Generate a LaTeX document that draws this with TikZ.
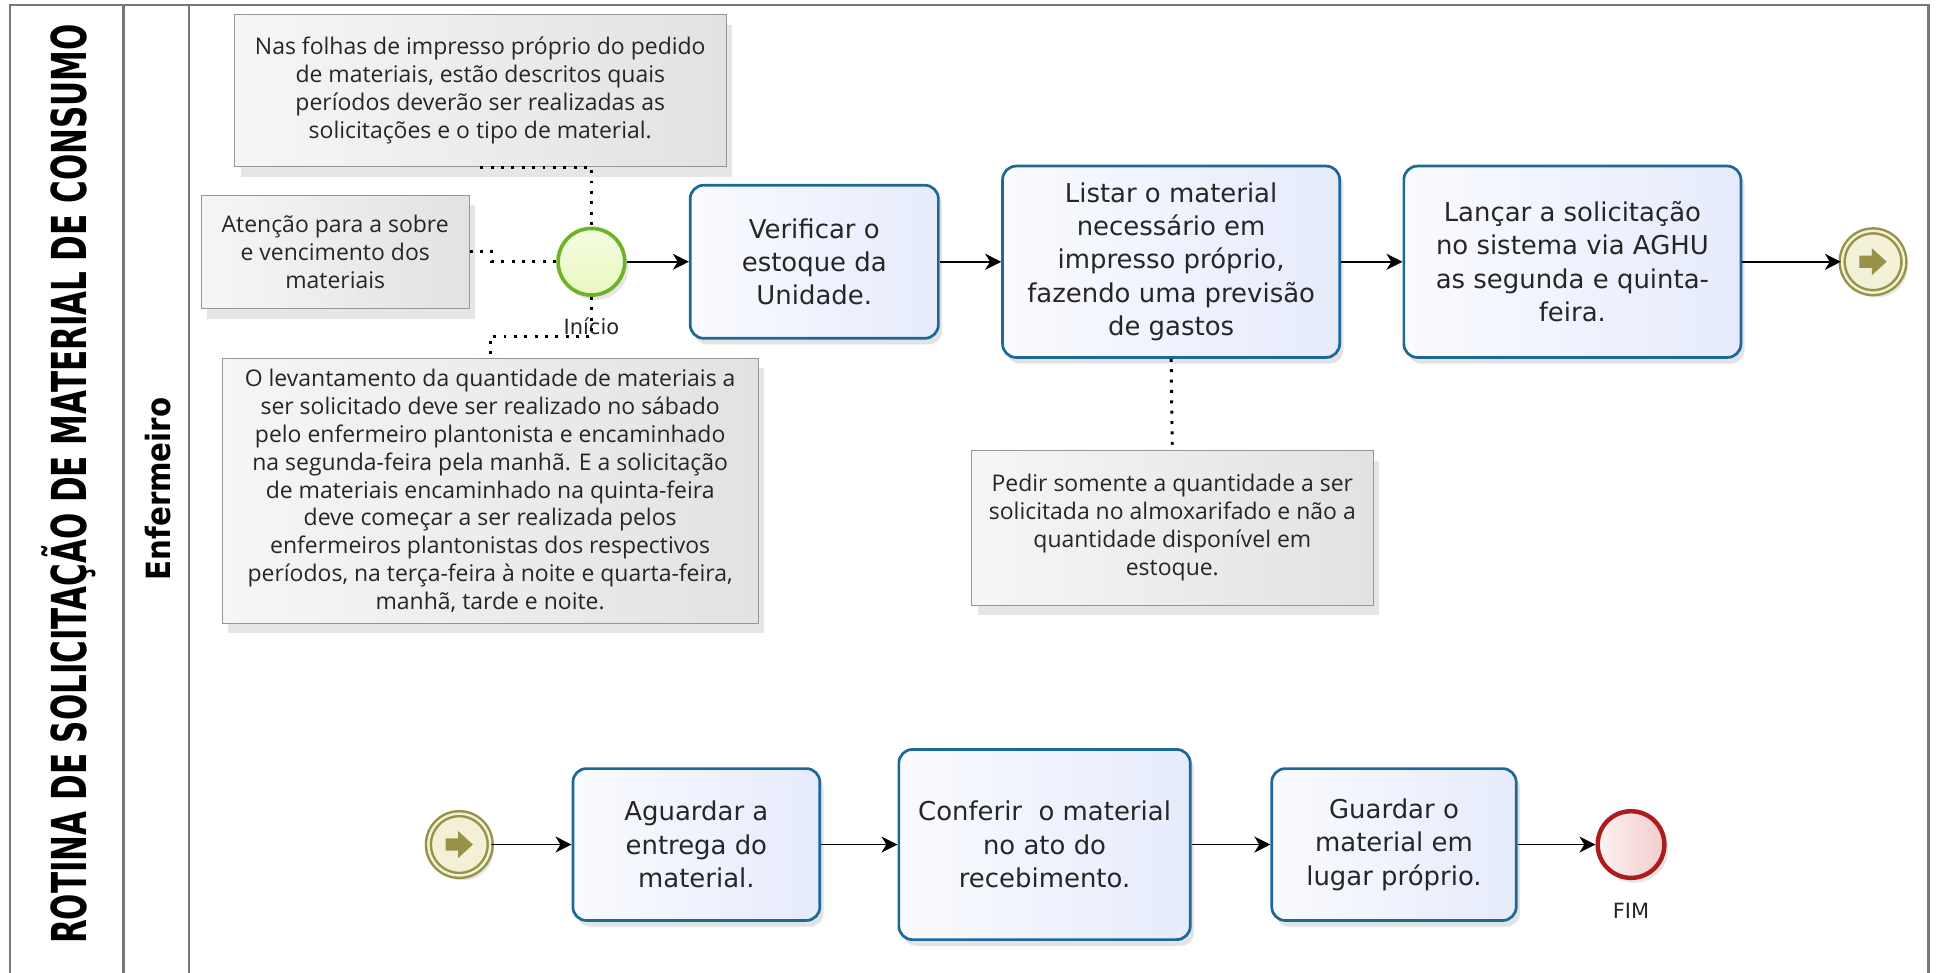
\documentclass[tikz,border=0pt]{standalone}
\usepackage{fontspec}
\usepackage{graphicx}
\setmainfont{DejaVu Sans}
\newfontfamily\notefont{Open Sans}
\usetikzlibrary{arrows.meta,shadows,positioning}
\definecolor{poolgray}{RGB}{120,120,120}
\definecolor{taskline}{RGB}{28,104,152}
\definecolor{taskA}{RGB}{250,251,255}
\definecolor{taskB}{RGB}{230,235,251}
\definecolor{notegray}{RGB}{150,150,150}
\definecolor{noteA}{RGB}{246,246,246}
\definecolor{noteB}{RGB}{226,226,226}
\definecolor{startline}{RGB}{110,178,40}
\definecolor{startfill}{RGB}{232,248,190}
\definecolor{endline}{RGB}{172,28,28}
\definecolor{endfill}{RGB}{244,204,204}
\definecolor{linkol}{RGB}{150,146,72}
\definecolor{linkbg}{RGB}{242,240,214}

\begin{document}
\begin{tikzpicture}[x=1pt, y=-1pt,
    pool/.style={draw=poolgray, line width=2pt},
    task/.style={rectangle, rounded corners=11pt, draw=taskline, line width=2.2pt,
      left color=taskA, right color=taskB, align=center, text=black!85,
      font=\fontsize{21}{27}\selectfont,
      drop shadow={shadow xshift=3pt, shadow yshift=-5pt, opacity=.22}},
    note/.style={rectangle, draw=notegray, line width=.8pt,
      left color=noteA, right color=noteB, align=center, text=black!85,
      font=\notefont\fontsize{18.6}{22.6}\selectfont,
      drop shadow={shadow xshift=5pt, shadow yshift=-8pt, opacity=.2}},
    event/.style={circle, minimum size=54pt, inner sep=0pt,
      drop shadow={shadow xshift=3pt, shadow yshift=-4pt, opacity=.2}},
    startev/.style={event, draw=startline, line width=3pt,
      top color=white!55!startfill, bottom color=startfill},
    endev/.style={event, draw=endline, line width=3.6pt,
      left color=white!75!endfill, right color=endfill},
    linkev/.style={event, draw=linkol, line width=2pt, double=linkbg,
      double distance=2pt, fill=linkbg, minimum size=50pt},
    evlabel/.style={font=\fontsize{17}{20}\selectfont, text=black!85},
    flow/.style={-{Stealth[length=13pt,width=13pt,inset=4pt]}, line width=1.3pt},
    assoc/.style={line width=2.4pt, dash pattern=on 2.4pt off 6pt}]

  \useasboundingbox (0,0) rectangle (1568,788);
  \draw[pool] (8,788) -- (8,4) -- (1562,4) -- (1562,788);
  \draw[pool] (100,4) -- (100,788);
  \draw[pool] (153,4) -- (153,788);

  \node[rotate=90] (title) at (56,392) {\resizebox{745pt}{\height}{\fontsize{39}{41}\selectfont\bfseries ROTINA DE SOLICITAÇÃO DE MATERIAL DE CONSUMO}};
  \node[rotate=90] (lane) at (128,396) {\resizebox{148pt}{\height}{\fontsize{27}{30}\selectfont\bfseries Enfermeiro}};

  \node[note, minimum width=398pt, minimum height=123pt] (note1) at (389,73.5)
    {Nas folhas de impresso próprio do pedido\\de materiais, estão descritos quais\\períodos deverão ser realizadas as\\solicitações e o tipo de material.};
  \node[note, minimum width=217pt, minimum height=92pt] (note2) at (271.5,204)
    {Atenção para a sobre\\e vencimento dos\\materiais};
  \node[note, minimum width=434pt, minimum height=215pt] (note3) at (397,397.5)
    {O levantamento da quantidade de materiais a\\ser solicitado deve ser realizado no sábado\\pelo enfermeiro plantonista e encaminhado\\na segunda-feira pela manhã. E a solicitação\\de materiais encaminhado na quinta-feira\\deve começar a ser realizada pelos\\enfermeiros plantonistas dos respectivos\\períodos, na terça-feira à noite e quarta-feira,\\manhã, tarde e noite.};
  \node[note, minimum width=325pt, minimum height=125pt] (note4) at (949.5,427.5)
    {Pedir somente a quantidade a ser\\solicitada no almoxarifado e não a\\quantidade disponível em\\estoque.};

  \node[startev] (start) at (479,212) {};
  \node[evlabel, below=13pt of start] (startlbl) {Início};
  \node[task, minimum width=201pt, minimum height=124pt] (verif) at (659.5,212)
    {Verificar o\\estoque da\\Unidade.};
  \node[task, minimum width=273pt, minimum height=155pt] (listar) at (948.5,212)
    {Listar o material\\necessário em\\impresso próprio,\\fazendo uma previsão\\de gastos};
  \node[task, minimum width=273pt, minimum height=155pt] (lancar) at (1273.5,212)
    {Lançar a solicitação\\no sistema via AGHU\\as segunda e quinta-\\feira.};
  \node[linkev] (linkout) at (1517,212) {};

  \node[linkev] (linkin) at (372,684) {};
  \node[task, minimum width=200pt, minimum height=123pt] (aguardar) at (564,684)
    {Aguardar a\\entrega do\\material.};
  \node[task, minimum width=236pt, minimum height=154pt] (conferir) at (846,684)
    {Conferir~ o material\\no ato do\\recebimento.};
  \node[task, minimum width=198pt, minimum height=123pt] (guardar) at (1129,684)
    {Guardar o\\material em\\lugar próprio.};
  \node[endev] (fim) at (1321,684) {};
  \node[evlabel, below=15pt of fim] (fimlbl) {FIM};

  \foreach \ev in {linkout,linkin}
    \fill[linkol] ([shift={(-11,-5)}]\ev.center) -- ++(10,0) -- ++(0,-6) -- ++(12,11)
      -- ++(-12,11) -- ++(0,-6) -- ++(-10,0) -- cycle;

  \draw[assoc] (note1.south) -| (start.north);
  \draw[assoc] (note2.east) -- ++(18,0) |- (start.west);
  \draw[assoc] (start.south) -- ++(0,32) -| (note3.north);
  \draw[assoc] (listar.south) -- (note4.north);

  \draw[flow] (start) -- (verif);
  \draw[flow] (verif) -- (listar);
  \draw[flow] (listar) -- (lancar);
  \draw[flow] (lancar) -- (linkout);
  \draw[flow] (linkin) -- (aguardar);
  \draw[flow] (aguardar) -- (conferir);
  \draw[flow] (conferir) -- (guardar);
  \draw[flow] (guardar) -- (fim);
\end{tikzpicture}
\end{document}
